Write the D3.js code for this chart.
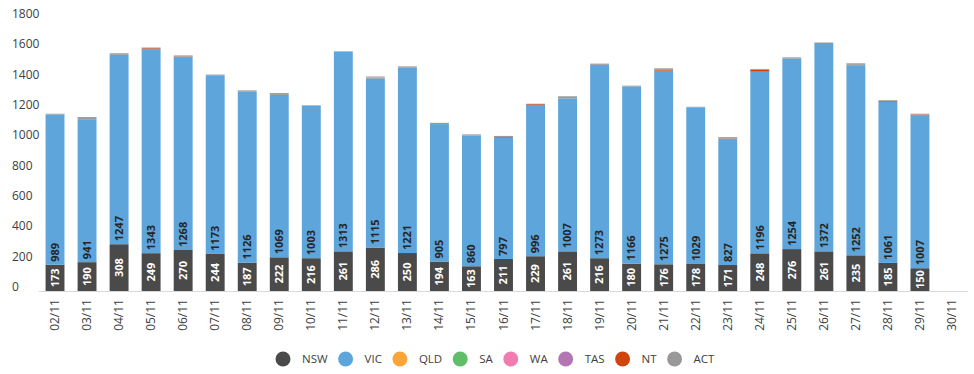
<!DOCTYPE html>
<html>
<head>
<meta charset="utf-8">
<title>daily stacked</title>
<script src="https://cdn.jsdelivr.net/npm/d3@7/dist/d3.min.js"></script>
<style>
    body {margin: 0; background: #fff;}
    text {font-family: "Open Sans", "Noto Sans", sans-serif;}
</style>
</head>
<body>
<div id="container"></div>
<script>
// values, 30/11 has no data
const dates = ['02/11','03/11','04/11','05/11','06/11','07/11','08/11','09/11','10/11','11/11',
    '12/11','13/11','14/11','15/11','16/11','17/11','18/11','19/11','20/11','21/11',
    '22/11','23/11','24/11','25/11','26/11','27/11','28/11','29/11','30/11'];
const nsw = [173,190,308,249,270,244,187,222,216,261,286,250,194,163,211,229,261,216,180,176,178,171,248,276,261,235,185,150,0];
const vic = [989,941,1247,1343,1268,1173,1126,1069,1003,1313,1115,1221,905,860,797,996,1007,1273,1166,1275,1029,827,1196,1254,1372,1252,1061,1007,0];
const qld = [0,0,0,0,0,0,0,0,0,0,5,0,0,0,0,0,0,0,0,0,0,0,0,0,0,2,0,0,0];
const sa  = [0,0,0,0,0,0,0,0,0,0,0,0,0,0,0,0,0,0,0,0,0,0,0,0,0,0,0,0,0];
const wa  = [0,0,0,0,0,0,0,0,0,0,0,0,0,0,0,0,0,0,0,0,0,0,0,0,0,0,0,0,0];
const tas = [0,0,0,0,0,0,0,0,0,0,0,0,0,0,0,0,0,0,0,0,0,0,0,0,0,0,0,0,0];
const nt  = [0,0,0,6,5,0,0,0,0,0,0,0,0,0,5,5,0,0,0,5,0,5,12,0,0,0,5,5,0];
const act = [5,14,10,5,8,8,8,12,4,4,6,8,8,8,8,3,14,8,6,10,6,10,6,8,3,10,5,5,0];
const yTicks = [0,200,400,600,800,1000,1200,1400,1600,1800];

const keys = ['NSW','VIC','QLD','SA','WA','TAS','NT','ACT'];
const colors = ['#4a4a4a','#5da5da','#faa43a','#60bd68','#f17cb0','#b276b2','#d0450c','#999999'];
const series = [nsw, vic, qld, sa, wa, tas, nt, act];

const w = 974, h = 374;
const svg = d3.select('#container').append('svg')
    .attr('width', w).attr('height', h);

const rows = dates.map((d, i) => {
    const r = {date: d};
    keys.forEach((k, j) => r[k] = series[j][i]);
    return r;
});

const x = d3.scaleBand().domain(dates).range([39, 968]).paddingInner(0.41).paddingOuter(0.205);
const y = d3.scaleLinear().domain([0, 1800]).range([291, 17.6]);
const color = d3.scaleOrdinal().domain(keys).range(colors);

const stacked = d3.stack().keys(keys)(rows);

// bars
svg.append('g').selectAll('g')
    .data(stacked)
    .join('g')
    .attr('fill', d => color(d.key))
    .selectAll('rect')
    .data(d => d)
    .join('rect')
    .attr('x', d => x(d.data.date))
    .attr('width', x.bandwidth())
    .attr('y', d => y(d[1]))
    .attr('height', d => y(d[0]) - y(d[1]));

// x axis line
svg.append('line')
    .attr('x1', 39).attr('x2', 968)
    .attr('y1', y(0) + 0.5).attr('y2', y(0) + 0.5)
    .attr('stroke', '#d9d9d9');

// y labels
svg.append('g').selectAll('text')
    .data(yTicks)
    .join('text')
    .attr('x', 12)
    .attr('y', d => y(d) - 4)
    .attr('dy', '0.35em')
    .attr('font-size', 12)
    .attr('fill', '#404040')
    .text(d => d);

// x labels
svg.append('g').selectAll('text')
    .data(dates)
    .join('text')
    .attr('transform', d => `translate(${x(d) + x.bandwidth() / 2 + 4},${y(0) + 8}) rotate(-90)`)
    .attr('text-anchor', 'end')
    .attr('font-size', 12)
    .attr('fill', '#404040')
    .text(d => d);

// data labels NSW (white, centred) and VIC (dark, inside base)
const lbl = svg.append('g').attr('font-size', 11).attr('font-weight', 'bold');
lbl.selectAll('text.nsw')
    .data(rows.filter(r => r.NSW > 0))
    .join('text')
    .attr('class', 'nsw')
    .attr('transform', r => `translate(${x(r.date) + x.bandwidth() / 2},${y(r.NSW / 2)}) rotate(-90)`)
    .attr('text-anchor', 'middle')
    .attr('dy', '0.35em')
    .attr('fill', '#fff')
    .text(r => r.NSW);
lbl.selectAll('text.vic')
    .data(rows.filter(r => r.VIC > 0))
    .join('text')
    .attr('class', 'vic')
    .attr('transform', r => `translate(${x(r.date) + x.bandwidth() / 2},${y(r.NSW) - 3}) rotate(-90)`)
    .attr('text-anchor', 'start')
    .attr('dy', '0.35em')
    .attr('fill', '#262626')
    .text(r => r.VIC);

// legend
const leg = svg.append('g').attr('transform', 'translate(283,359)');
const items = leg.selectAll('g').data(keys).join('g');
items.append('circle').attr('r', 7.5).attr('cy', 0).attr('fill', d => color(d));
items.append('text').attr('x', 19).attr('dy', '0.35em')
    .attr('font-size', 11.5).attr('fill', '#404040').text(d => d);
let cx = 0;
items.each(function() {
    const tw = d3.select(this).select('text').node().getComputedTextLength();
    d3.select(this).attr('transform', `translate(${cx},0)`);
    cx += 19 + tw + 18;
});
</script>
</body>
</html>
